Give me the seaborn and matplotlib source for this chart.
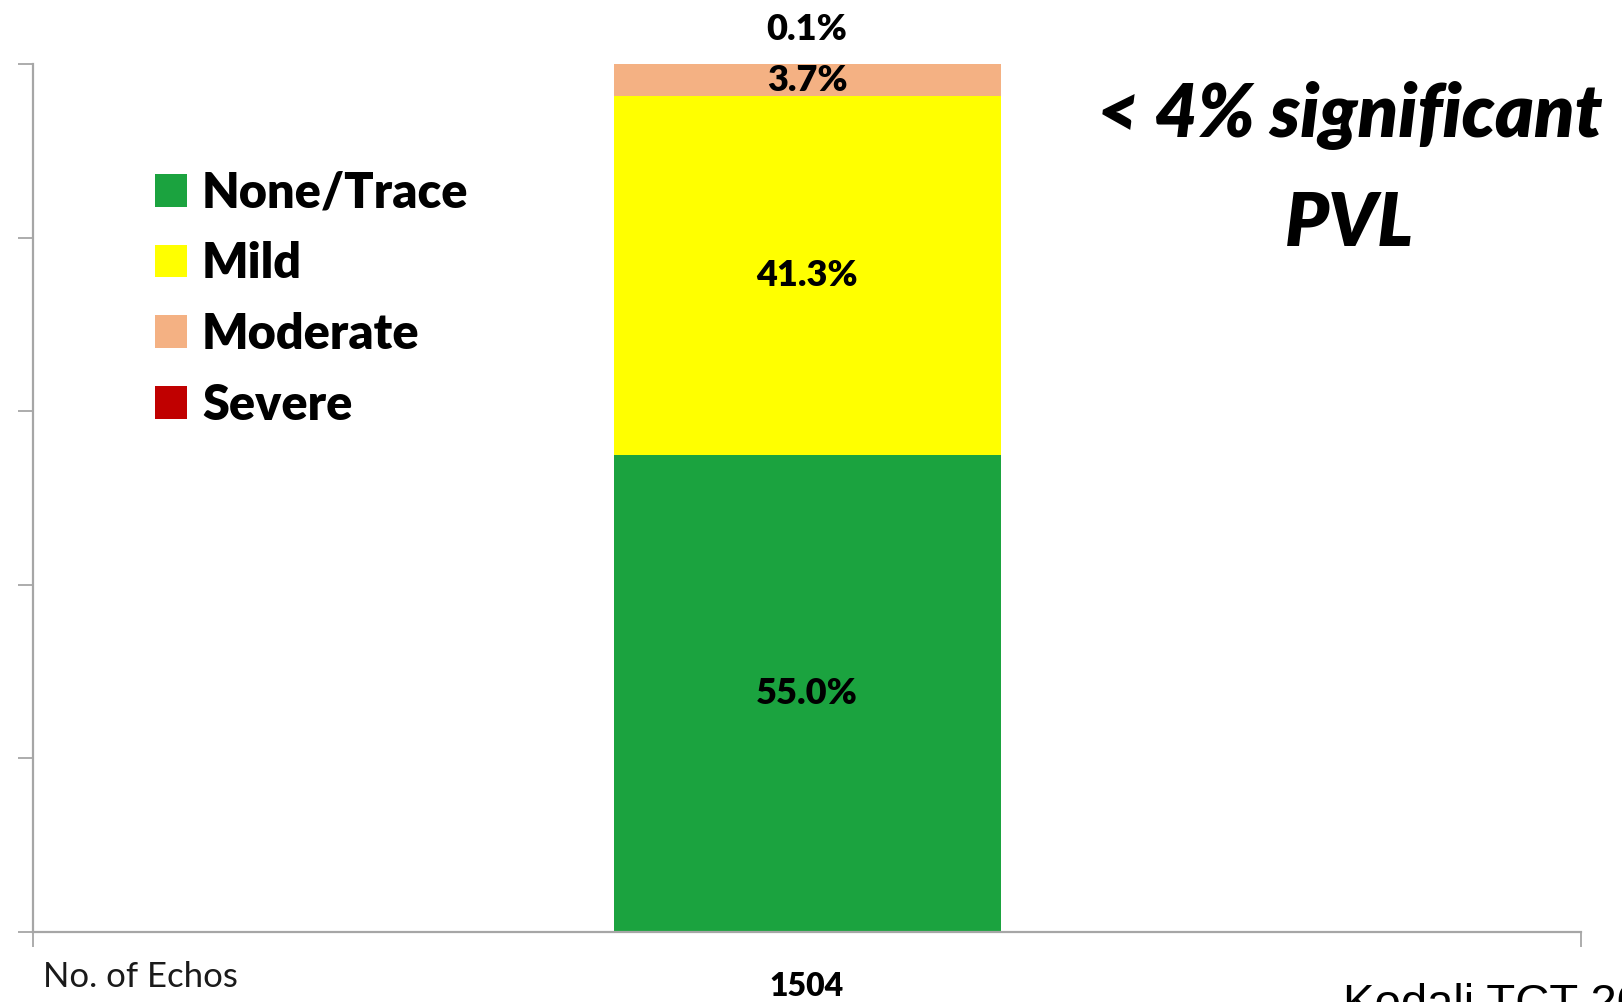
import numpy as np
import pandas as pd
import matplotlib
matplotlib.use("Agg")
import matplotlib.pyplot as plt
import seaborn as sns
from matplotlib.patches import Patch

# ---- data ----
group_labels = ["1504"]
grades = ["None/Trace", "Mild", "Moderate", "Severe"]
percents = [55.0, 41.3, 3.7, 0.1]
grade_colors = ["#1BA33F", "#FFFF00", "#F4B183", "#C00000"]
annotation = "< 4% significant\nPVL"
x_title = "No. of Echos"
source_note = "Kodali TCT 20"

sns.set_theme(style="white")
plt.rcParams["font.family"] = ["Lato", "DejaVu Sans"]
plt.rcParams["text.color"] = "#000000"

cum = np.cumsum(percents)
df = pd.DataFrame({
    "group": group_labels * len(grades),
    "grade": grades,
    "pct": percents,
    "cum": cum,
})

fig = plt.figure(figsize=(16.22, 10.02), dpi=100)
ax = fig.add_axes([33/1622, 1 - 932/1002, (1581 - 33)/1622, (932 - 64)/1002])

palette = dict(zip(grades, grade_colors))
# draw tallest cumulative first so each lower segment overlays
sns.barplot(data=df, x="group", y="cum", hue="grade",
            hue_order=grades[::-1], palette=palette, dodge=False,
            width=0.25, saturation=1, ax=ax, legend=False,
            edgecolor="none", linewidth=0)

ax.set_xlim(-0.5, 0.5)
ax.set_ylim(0, 100)
ax.set_xlabel("")
ax.set_ylabel("")

# spines / ticks
for s in ["top", "right"]:
    ax.spines[s].set_visible(False)
for s in ["left", "bottom"]:
    ax.spines[s].set_color("#A6A6A6")
    ax.spines[s].set_linewidth(1.6)
ax.set_yticks(np.arange(0, 101, 20))
ax.set_yticklabels([])
ax.tick_params(axis="y", direction="out", length=11, width=1.3, color="#A6A6A6", left=True)
ax.set_xticks([-0.5, 0.5])
ax.set_xticklabels([])
ax.tick_params(axis="x", which="major", direction="out", length=11, width=1.3,
               color="#A6A6A6", bottom=True)
ax.set_xticks([0], minor=True)
ax.set_xticklabels(group_labels, minor=True, fontsize=23, fontweight="heavy",
                   color="#000000")
ax.tick_params(axis="x", which="minor", length=0, pad=29)

# segment labels
bottoms = cum - np.array(percents)
for g, p, b in zip(grades, percents, bottoms):
    if p >= 1:
        ax.text(0, b + p / 2, f"{p:.1f}%", ha="center", va="center",
                fontsize=26, fontweight="heavy", color="#000000")
    else:
        ax.annotate(f"{p:.1f}%", xy=(0, 100), xytext=(0, 25),
                    textcoords="offset points", ha="center", va="center",
                    fontsize=26, fontweight="heavy", color="#000000",
                    annotation_clip=False)

# legend
handles = [Patch(facecolor=c, edgecolor="none") for c in grade_colors]
leg = fig.legend(handles, grades, loc="upper left",
                 bbox_to_anchor=(131/1622, 1 - 146/1002),
                 frameon=False, prop={"weight": "heavy", "size": 35},
                 handlelength=0.66, handleheight=0.66, handletextpad=0.3,
                 labelspacing=0.53, borderpad=0)
for t in leg.get_texts():
    t.set_color("#000000")

fig.text(1350/1622, 1 - 170/1002, annotation, ha="center", va="center",
         fontsize=53, fontweight="heavy", fontstyle="italic", linespacing=1.72)

fig.text(43/1622, 1 - 977/1002, x_title, ha="left", va="center", fontsize=25,
         color="#1A1A1A")
fig.text(1343/1622, 1 - 983/1002, source_note, ha="left", va="top",
         fontsize=34, family=["Liberation Sans", "DejaVu Sans"], color="#000000")

fig.savefig("out.png", dpi=100, facecolor="white")
